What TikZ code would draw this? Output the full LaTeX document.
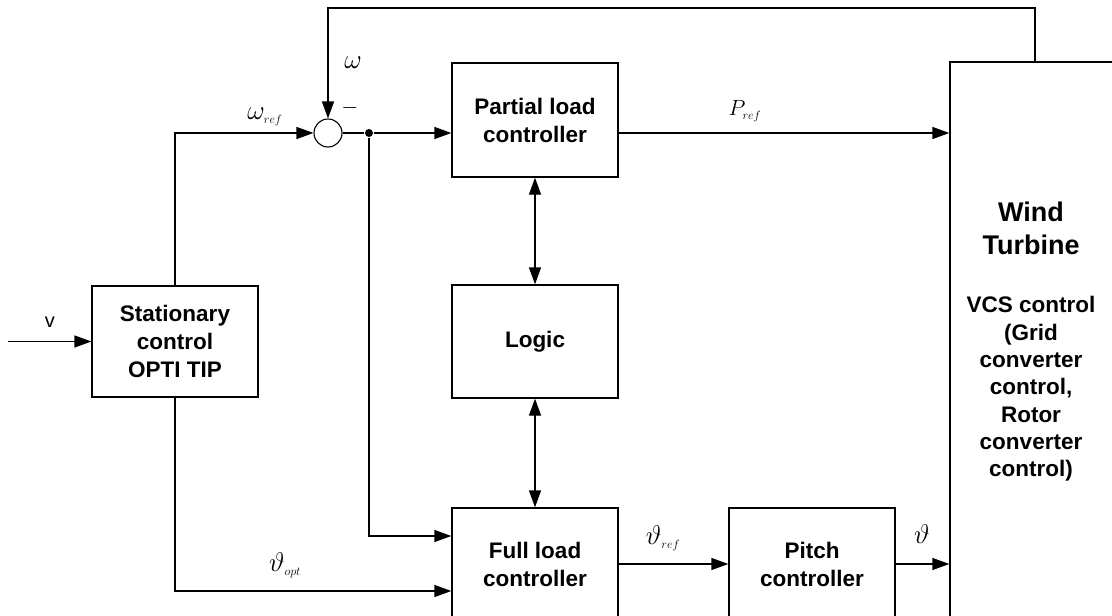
\documentclass[tikz,border=0pt]{standalone}
\usepackage{fix-cm}
\usepackage{fontspec}
\setmainfont{Liberation Sans}
\DeclareMathSizes{22}{22}{12}{9}
\DeclareMathSizes{27}{27}{12}{9}
\usetikzlibrary{arrows.meta}
\begin{document}
\begin{tikzpicture}[x=1pt,y=-1pt,
  line width=1.3pt,
  arr/.style={-{Triangle[length=17pt,width=12pt]}},
  darr/.style={{Triangle[length=17pt,width=12pt]}-{Triangle[length=17pt,width=12pt]}},
  blk/.style={draw, minimum width=166pt, font=\fontsize{22.5}{28}\selectfont\bfseries, align=center, inner sep=0pt},
  lab/.style={font=\fontsize{22}{26}\selectfont, inner sep=0pt},
  glab/.style={font=\fontsize{27}{30}\selectfont, inner sep=0pt},
  wttxt/.style={align=center, inner sep=0pt, font=\bfseries},
]
\useasboundingbox (0,0) rectangle (1112,616);
\clip (0,0) rectangle (1112,616);

% blocks
\node[blk, minimum height=111pt] (stat) at (175,341.5) {Stationary\\control\\OPTI TIP};
\node[blk, minimum height=114pt] (part) at (535,120) {Partial load\\controller};
\node[blk, minimum height=113pt] (logic) at (535,341.5) {Logic};
\node[blk, minimum height=112pt] (full) at (535,564) {Full load\\controller};
\node[blk, minimum height=112pt] (pitch) at (812,564) {Pitch\\controller};
\node[draw, minimum width=164pt, minimum height=560pt, inner sep=0pt] (wt) at (1032,342) {};
\node[wttxt, anchor=north, font=\fontsize{27}{33}\selectfont\bfseries] (wtA) at (1031,201) {Wind\\Turbine};
\node[wttxt, anchor=north, font=\fontsize{22.5}{27.3}\selectfont\bfseries] (wtB) at (1031,296) {VCS control\\(Grid\\converter\\control,\\Rotor\\converter\\control)};

% summing junction and branch point
\node[draw, circle, minimum size=28pt, inner sep=0pt, line width=1.1pt] (sum) at (328,133) {};
\node[fill, circle, inner sep=0pt, minimum size=8pt] (dot) at (369,133) {};

% coordinates
\coordinate (vin) at (8,341.5);
\coordinate (fb1) at ([xshift=3pt]wt.north);
\coordinate (fb2) at (1035,8);
\coordinate (fb3) at (328,8);

% connectors
\draw[arr] (vin) -- (stat.west);
\draw[arr] (stat.north) |- (sum.west);
\draw[arr] (fb1) -- (fb2) -- (fb3) -- (sum.north);
\draw (sum.east) -- (dot);
\draw[arr] (dot) -- (dot -| part.west);
\draw[arr] (dot) |- ([yshift=28pt]full.west);
\draw[arr] (stat.south) |- ([yshift=-27pt]full.west);
\draw[arr] (dot -| part.east) -- (dot -| wt.west);
\draw[darr] (part.south) -- (logic.north);
\draw[darr] (logic.south) -- (full.north);
\draw[arr] (full.east) -- (pitch.west);
\draw[arr] (pitch.east) -- (pitch.east -| wt.west);

% labels
\node[lab, font=\fontsize{20}{24}\selectfont] (lv) at (50,322) {v};
\node[glab] (lw) at (353,63) {$\omega$};
\node[lab] (lminus) at (350,108) {$-$};
\node[glab] (lwref) at (265,117) {$\omega_{ref}$};
\node[lab] (lpref) at (745,111) {$P_{ref}$};
\node[glab] (lthref) at (663,538) {$\vartheta_{ref}$};
\node[glab] (lthopt) at (285,565) {$\vartheta_{opt}$};
\node[glab] (lth) at (922,534) {$\vartheta$};
\end{tikzpicture}
\end{document}
